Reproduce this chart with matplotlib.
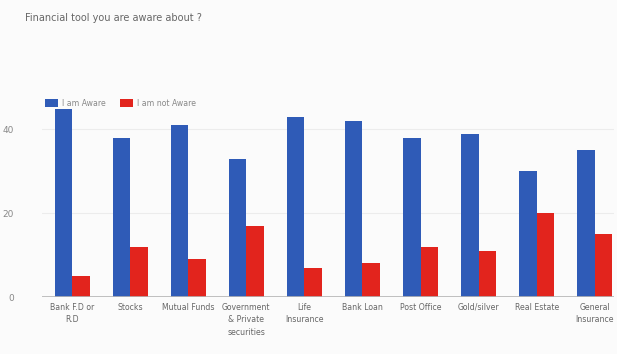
import matplotlib
matplotlib.use("Agg")
import matplotlib.pyplot as plt
import numpy as np

categories = ["Bank F.D or\nR.D", "Stocks", "Mutual Funds", "Government\n& Private\nsecurities",
              "Life\nInsurance", "Bank Loan", "Post Office", "Gold/silver", "Real Estate",
              "General\nInsurance"]
aware = [45, 38, 41, 33, 43, 42, 38, 39, 30, 35]
not_aware = [5, 12, 9, 17, 7, 8, 12, 11, 20, 15]
series_names = ["I am Aware", "I am not Aware"]
yticks = [0, 20, 40]

blue = "#2f5bb7"
red = "#e2241d"
bg = "#fbfbfb"

fig = plt.figure(figsize=(6.17, 3.54), dpi=100, facecolor=bg)
ax = fig.add_axes([0.068, 0.161, 0.927, 0.568], facecolor=bg)

x = np.arange(len(categories))
w = 0.3
ax.bar(x - w / 2, aware, width=w, color=blue, label=series_names[0], zorder=3)
ax.bar(x + w / 2, not_aware, width=w, color=red, label=series_names[1], zorder=3)

ax.set_xlim(-0.52, 9.33)
ax.set_ylim(0, 48)
ax.set_yticks(yticks)
ax.set_yticklabels([str(t) for t in yticks], fontsize=6.5, color="#888888")
ax.set_xticks(x)
ax.set_xticklabels(categories, fontsize=5.6, color="#666666", linespacing=1.5)
ax.tick_params(axis="x", length=0, pad=4)
ax.tick_params(axis="y", length=0, pad=20)

for t in yticks[1:]:
    ax.axhline(t, color="#ececec", lw=0.8, zorder=1)
ax.axhline(0, color="#b5b5b5", lw=1.2, zorder=4)
for s in ax.spines.values():
    s.set_visible(False)

ax.legend(loc="lower left", bbox_to_anchor=(0.0, 0.925), ncol=2, frameon=False,
          fontsize=5.6, handlelength=1.7, handleheight=1.2, columnspacing=1.8,
          handletextpad=0.5, borderaxespad=0, labelcolor="#888888")

fig.text(0.04, 0.95, "Financial tool you are aware about ?", fontsize=7,
         color="#666666", ha="left", va="center")

fig.savefig("out.png", dpi=100, facecolor=bg)
